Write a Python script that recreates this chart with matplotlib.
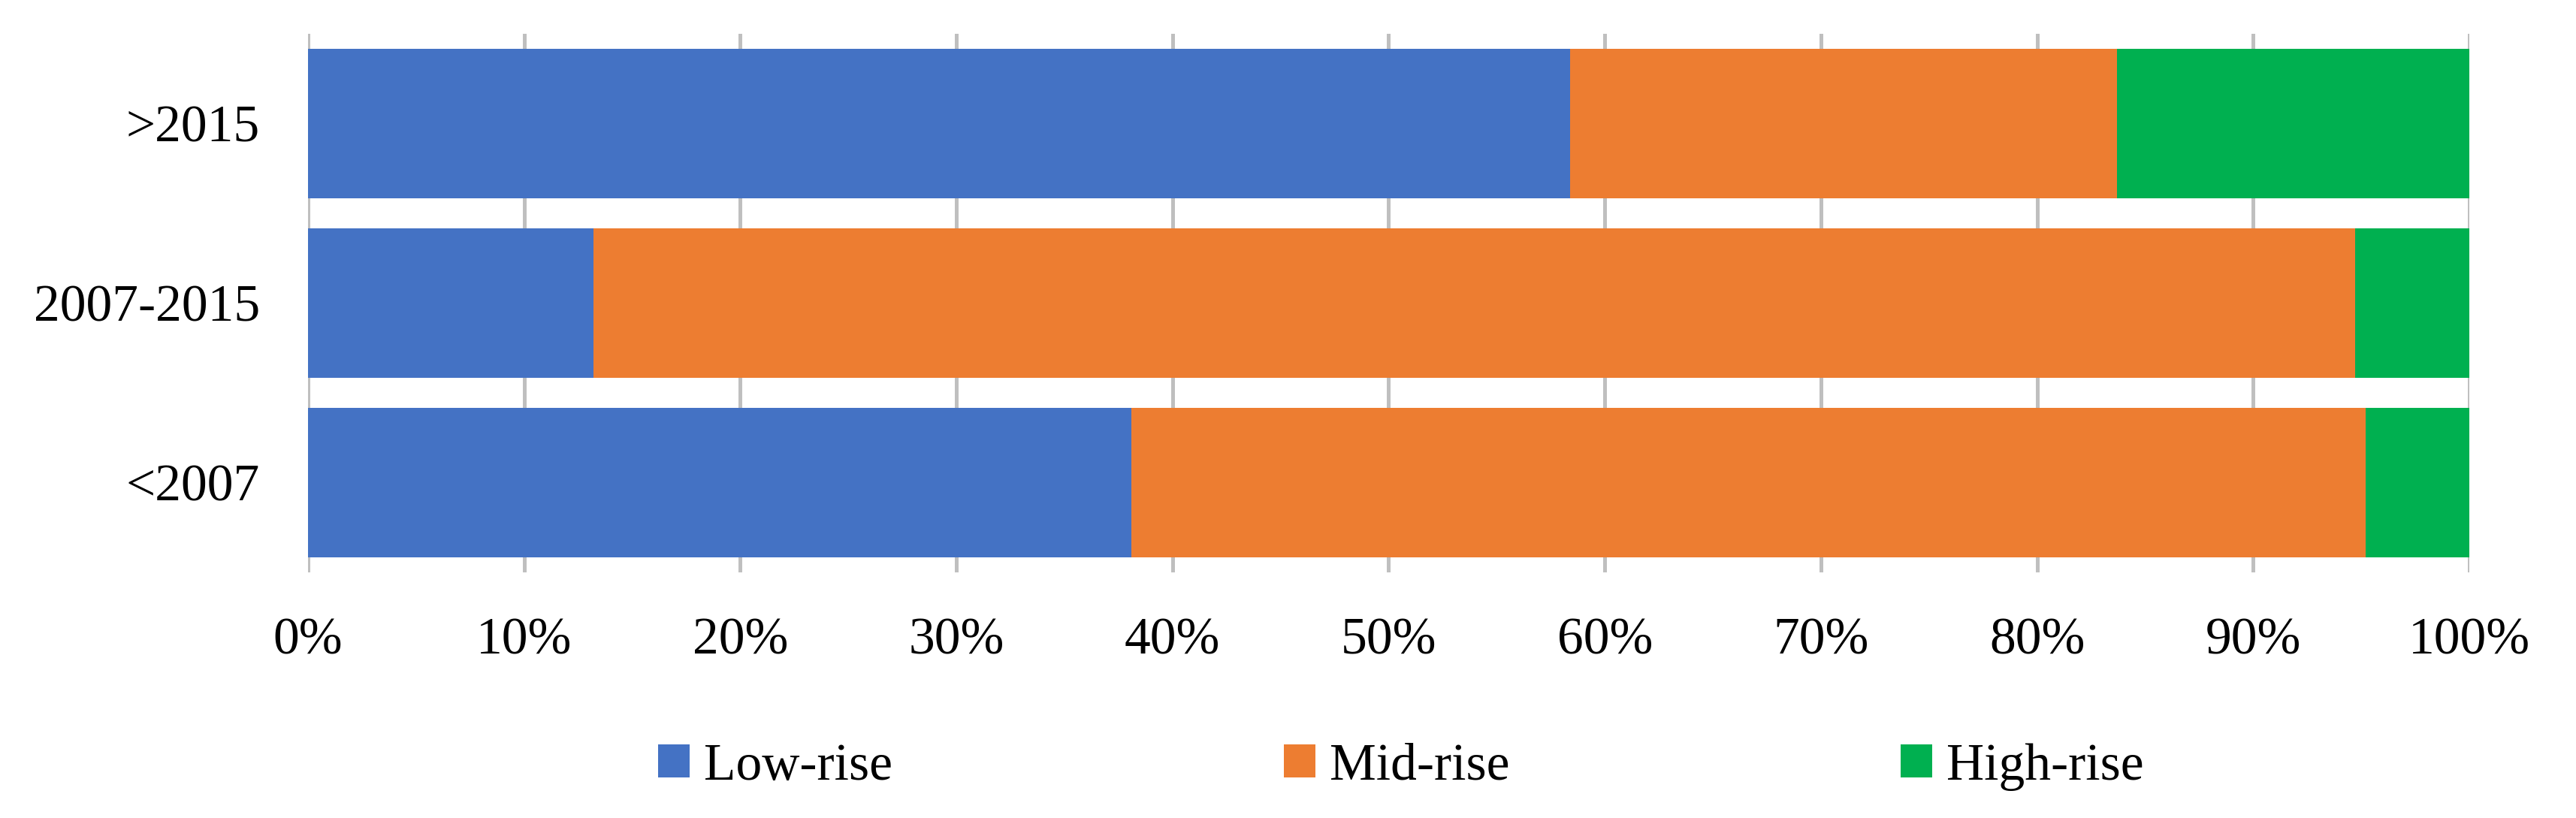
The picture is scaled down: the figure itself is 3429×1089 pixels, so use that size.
import matplotlib.pyplot as plt
import numpy as np

# categories from bottom to top
periods = ["<2007", "2007-2015", ">2015"]
low_rise = [38.1, 13.2, 58.4]
mid_rise = [57.1, 81.5, 25.3]
high_rise = [4.8, 5.3, 16.3]

series_names = ["Low-rise", "Mid-rise", "High-rise"]
colors = ["#4472C4", "#ED7D31", "#00B050"]
x_ticks = np.arange(0, 101, 10)
x_tick_labels = [f"{t}%" for t in x_ticks]

plt.rcParams["font.family"] = ["Liberation Serif", "DejaVu Serif"]

fig = plt.figure(figsize=(34.3, 10.89), dpi=100)
ax = fig.add_axes([410 / 3430, 1 - 762 / 1089, 2877 / 3430, 717 / 1089])

y = np.arange(len(periods))
left = np.zeros(len(periods))
for vals, name, c in zip([low_rise, mid_rise, high_rise], series_names, colors):
    ax.barh(y, vals, left=left, height=0.833, color=c, label=name, zorder=3)
    left = left + np.array(vals)

ax.set_xlim(0, 100)
ax.set_ylim(-0.5, 2.5)
ax.set_xticks(x_ticks)
ax.set_xticklabels(x_tick_labels)
ax.set_yticks(y)
ax.set_yticklabels(periods)

ax.xaxis.grid(True, color="#BFBFBF", linewidth=3.6, zorder=0)
ax.set_axisbelow(True)
for s in ax.spines.values():
    s.set_visible(False)
ax.tick_params(axis="both", length=0, labelsize=50)
ax.tick_params(axis="x", pad=43)
ax.tick_params(axis="y", pad=46)

fig.legend(loc="center", bbox_to_anchor=(1865 / 3430, 1 - 1021 / 1089),
           ncol=3, frameon=False, fontsize=50,
           handlelength=0.6, handleheight=0.6, handletextpad=0.28,
           columnspacing=7.5, borderpad=0, borderaxespad=0)

fig.savefig("out.png", dpi=100)
